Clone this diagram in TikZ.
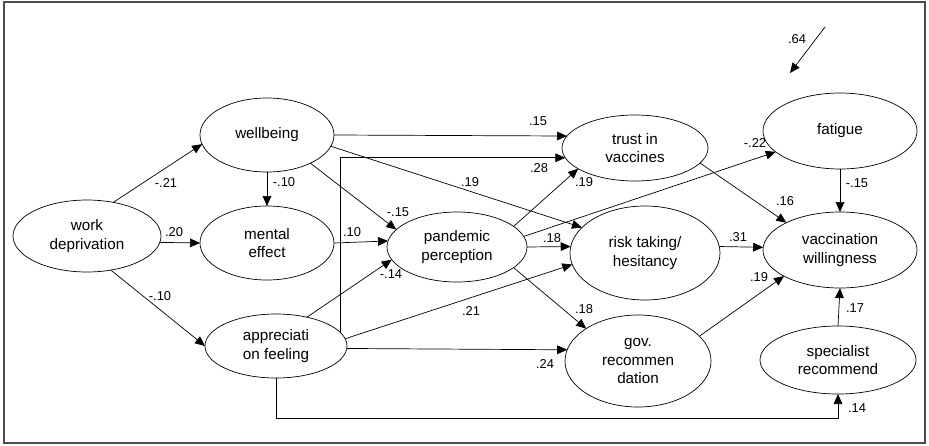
\documentclass[tikz,border=0pt]{standalone}
\usepackage{fontspec}
\setmainfont{Liberation Sans}
\usepackage{tikz}
\usetikzlibrary{arrows.meta,shapes.geometric}
\tikzset{
  factor/.style={draw, ellipse, line width=0.6pt, inner sep=0pt, outer sep=0pt, align=center, font=\fontsize{13}{15.5}\selectfont},
  coef/.style={inner sep=0pt, font=\fontsize{11}{13}\selectfont},
  arr/.style={-{Triangle[length=3mm,width=2.6mm]}, line width=0.6pt}
}

\begin{document}
\begin{tikzpicture}[x=0.03cm, y=-0.03cm]
			%%%%% START %%%%%
			\useasboundingbox (0,0) rectangle (929,445);
			\draw[line width=1pt, black!70] (4,2) rectangle (925,443);
			
			\node[factor, minimum width=4.44cm, minimum height=2.16cm] (work) at (87,236) {work\\deprivation};
			\node[factor, minimum width=4.02cm, minimum height=2.22cm] (wellb) at (267,135) {wellbeing};
			\node[factor, minimum width=4.02cm, minimum height=2.22cm] (mental) at (267,243) {mental\\effect};
			\node[factor, minimum width=4.26cm, minimum height=1.92cm] (apprec) at (276,346) {appreciati\\on feeling};
			\node[factor, minimum width=4.20cm, minimum height=2.10cm] (pandem) at (457,247) {pandemic\\perception};
			\node[factor, minimum width=4.38cm, minimum height=1.98cm] (trust) at (635,148) {trust in\\vaccines};
			\node[factor, minimum width=4.50cm, minimum height=2.82cm] (risk) at (645,253) {risk taking/\\hesitancy};
			\node[factor, minimum width=4.38cm, minimum height=2.76cm] (gov) at (638,361) {gov.\\recommen\\dation};
			\node[factor, minimum width=4.62cm, minimum height=2.28cm] (fatig) at (840,131) {fatigue};
			\node[factor, minimum width=4.62cm, minimum height=2.28cm] (vacc) at (840,250) {vaccination\\willingness};
			\node[factor, minimum width=4.68cm, minimum height=2.04cm] (spec) at (838,360) {specialist\\recommend};
			
			\draw[arr] (work.52) -- (wellb.188);
			\draw[arr] (work.-5) -- (mental.west);
			\draw[arr] (work.-55) -- (apprec.west);
			
			\draw[arr] (wellb.south) -- (mental.north);
			\draw[arr] (wellb.east) -- (trust.170);
			\draw[arr] (wellb.-10) -- (risk.158);
			\draw[arr] (wellb.-33) -- (pandem.164);
			
			\draw[arr] (mental.east) -- (pandem.175);
			
			\draw[arr] (apprec.12) |- (trust.188);
			\draw[arr] (apprec.43) -- (pandem.191);
			\draw[arr] (apprec.6) -- (risk.189);
			\draw[arr] (apprec.-2) -- (gov.171);
			\draw[arr] (apprec.south) -- ++(0,40) -| (spec.south);
			
			\draw[arr] (pandem.20) -- (trust.200);
			\draw[arr] (pandem.9) -- (fatig.198);
			\draw[arr] (pandem.east) -- (risk.175);
			\draw[arr] (pandem.-20) -- (gov.148);
			
			\draw[arr] (trust.-13) -- (vacc.153);
			\draw[arr] (fatig.south) -- (vacc.north);
			\draw[arr] (risk.5) -- (vacc.178);
			\draw[arr] (gov.22) -- (vacc.205);
			\draw[arr] (spec.north) -- (vacc.south);
			
			\coordinate (resid) at (825,27);
			\coordinate (residend) at (790,73);
			\draw[arr] (resid) -- (residend);
			
			\node[coef] (c1) at (166,183) {-.21};
			\node[coef] (c2) at (174,232) {.20};
			\node[coef] (c3) at (160,296) {-.10};
			\node[coef] (c4) at (284,182) {-.10};
			\node[coef] (c5) at (538,121) {.15};
			\node[coef] (c6) at (470,182) {.19};
			\node[coef] (c7) at (398,212) {-.15};
			\node[coef] (c8) at (352,232) {.10};
			\node[coef] (c9) at (391,274) {-.14};
			\node[coef] (c10) at (539,168) {.28};
			\node[coef] (c11) at (584,182) {.19};
			\node[coef] (c12) at (552,238) {.18};
			\node[coef] (c13) at (471,311) {.21};
			\node[coef] (c14) at (584,309) {.18};
			\node[coef] (c15) at (545,364) {.24};
			\node[coef] (c16) at (755,143) {-.22};
			\node[coef] (c17) at (785,201) {.16};
			\node[coef] (c18) at (857,183) {-.15};
			\node[coef] (c19) at (797,39) {.64};
			\node[coef] (c20) at (738,237) {.31};
			\node[coef] (c21) at (759,277) {.19};
			\node[coef] (c22) at (855,308) {.17};
			\node[coef] (c23) at (857,408) {.14};
			%%%%% END %%%%%
\end{tikzpicture}
\end{document}
